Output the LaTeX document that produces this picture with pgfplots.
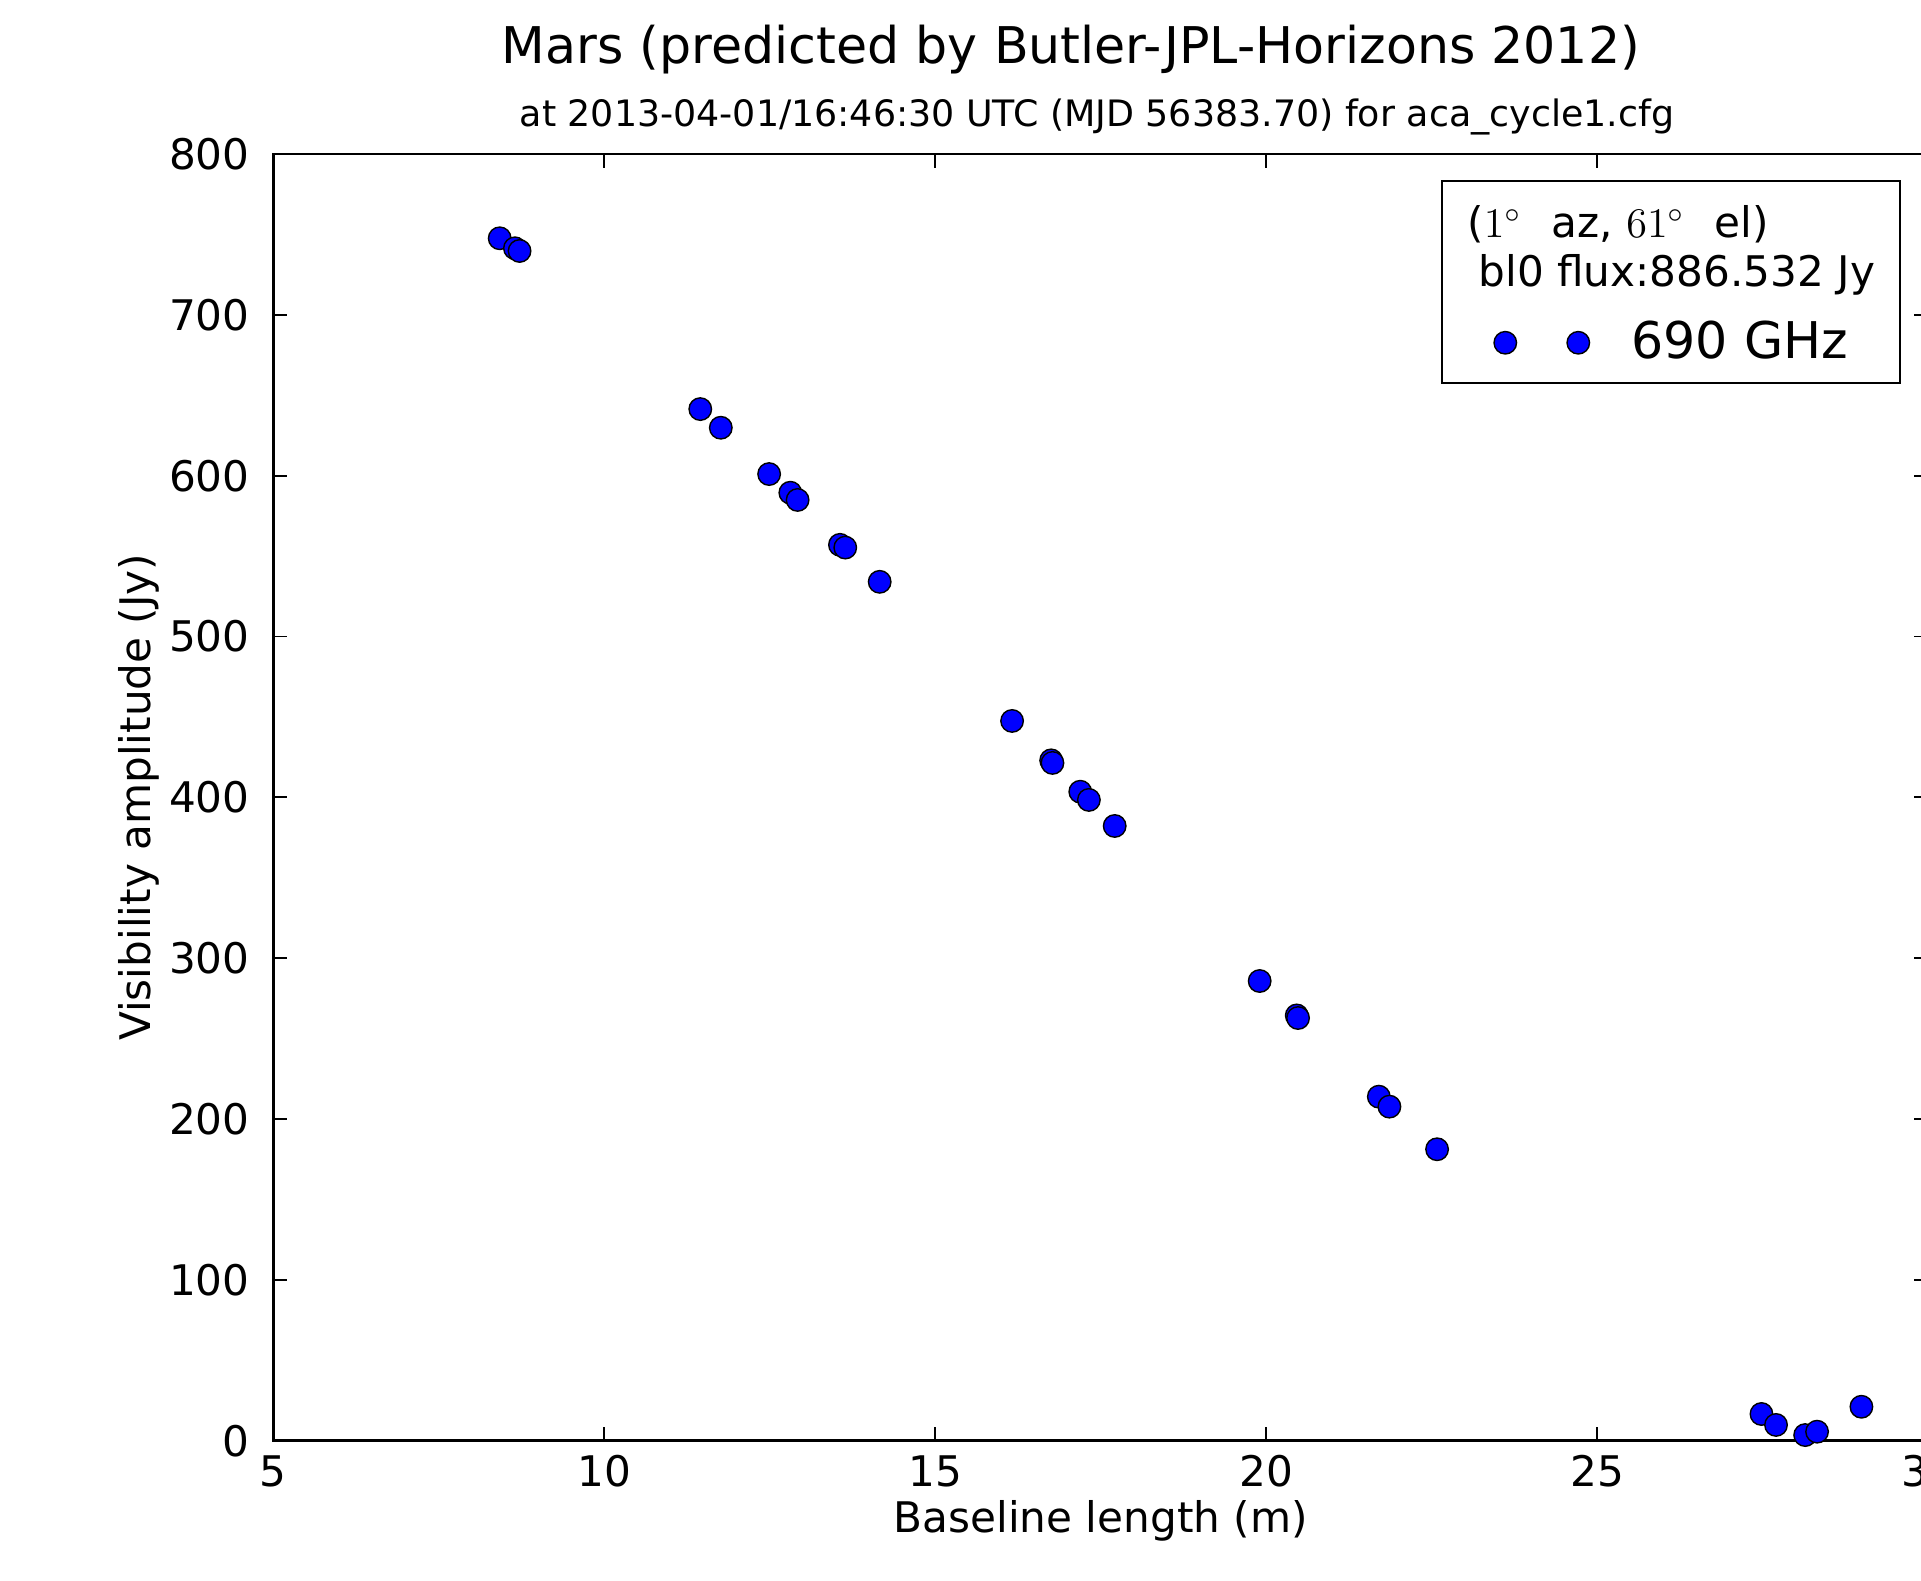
\documentclass[border=0pt]{standalone}
\usepackage{fontspec}
\setmainfont{DejaVu Sans}
\usepackage{pgfplots}
\pgfplotsset{compat=1.18}
\usetikzlibrary{calc}

\begin{document}
\begin{tikzpicture}
  \begin{axis}[
    name=ax,
    scale only axis,
    width=16.55cm, height=12.867cm,
    xmin=5, xmax=30, ymin=0, ymax=800,
    xtick={5,10,15,20,25,30},
    ytick={0,100,200,300,400,500,600,700,800},
    tick align=inside,
    major tick length=0.14cm,
    tick style={black, line width=0.5pt},
    axis line style={black, line width=0.8pt},
    /pgf/number format/assume math mode=true,
    every tick label/.append style={font=\fontsize{12}{14}\selectfont},
    yticklabel style={anchor=east, inner sep=0pt, xshift=-0.23cm},
    xticklabel style={anchor=north, inner sep=0pt, yshift=-0.14cm},
    xlabel={Baseline length (m)},
    ylabel={Visibility amplitude (Jy)},
    label style={font=\fontsize{12}{14}\selectfont},
    xlabel style={at={(rel axis cs:0.5,-0.0717)}, anchor=base},
    ylabel style={at={(rel axis cs:-0.0745,0.5)}, anchor=base},
    legend style={at={(rel axis cs:0.7372,0.8533)}, anchor=west,
      draw=none, fill=none, inner sep=0pt, column sep=0.42cm,
      nodes={inner sep=0pt},
      font=\fontsize{14.4}{17}\selectfont},
    legend image code/.code={
      \draw[only marks] plot coordinates {(0cm,0cm) (0.73cm,0cm)};
    },
  ]
    \addplot[only marks, mark=*, mark size=3.2pt,
      mark options={fill=blue, draw=black, line width=0.4pt}]
      coordinates {
        (8.42,747.6) (8.65,741.4) (8.72,739.7)
        (11.45,641.4) (11.76,629.8)
        (12.49,601.0) (12.81,589.4) (12.92,584.9)
        (13.56,557.0) (13.64,555.3) (14.16,534.0)
        (16.16,447.5) (16.75,423.0) (16.77,421.4)
        (17.19,403.5) (17.32,398.4) (17.71,382.2)
        (19.90,285.8) (20.46,264.4) (20.48,262.8)
        (21.70,213.9) (21.86,207.7) (22.58,181.2)
        (27.48,16.6) (27.70,9.8) (28.14,3.5) (28.32,5.6) (28.99,21.1)
      };
    \addlegendentry{690 GHz}
  \end{axis}

  % picture origin = lower left corner of the reference image
  \coordinate (O) at ($(ax.south west)+(-2.733cm,-1.403cm)$);

  \node[anchor=base, font=\fontsize{14.4}{17}\selectfont]
    at ($(O)+(10.71cm,15.177cm)$) {Mars (predicted by Butler-JPL-Horizons 2012)};
  \node[anchor=base, font=\fontsize{10.35}{12}\selectfont]
    at ($(O)+(10.97cm,14.54cm)$) {at 2013-04-01/16:46:30 UTC (MJD 56383.70) for aca\_cycle1.cfg};

  % legend frame and title lines
  \draw[line width=0.8pt] ($(O)+(14.42cm,11.98cm)$) rectangle ($(O)+(19.00cm,14.00cm)$);
  \node[anchor=base west, inner sep=0pt, font=\fontsize{12}{14}\selectfont]
    at ($(O)+(14.667cm,13.43cm)$) {($1^\circ$\hspace{0.17cm} az, $61^\circ$\hspace{0.17cm} el)};
  \node[anchor=base west, inner sep=0pt, font=\fontsize{12}{14}\selectfont]
    at ($(O)+(14.78cm,12.943cm)$) {bl0 flux:886.532 Jy};

  \pgfresetboundingbox
  \path[use as bounding box] (O) rectangle ($(O)+(19.21cm,15.81cm)$);
\end{tikzpicture}
\end{document}
